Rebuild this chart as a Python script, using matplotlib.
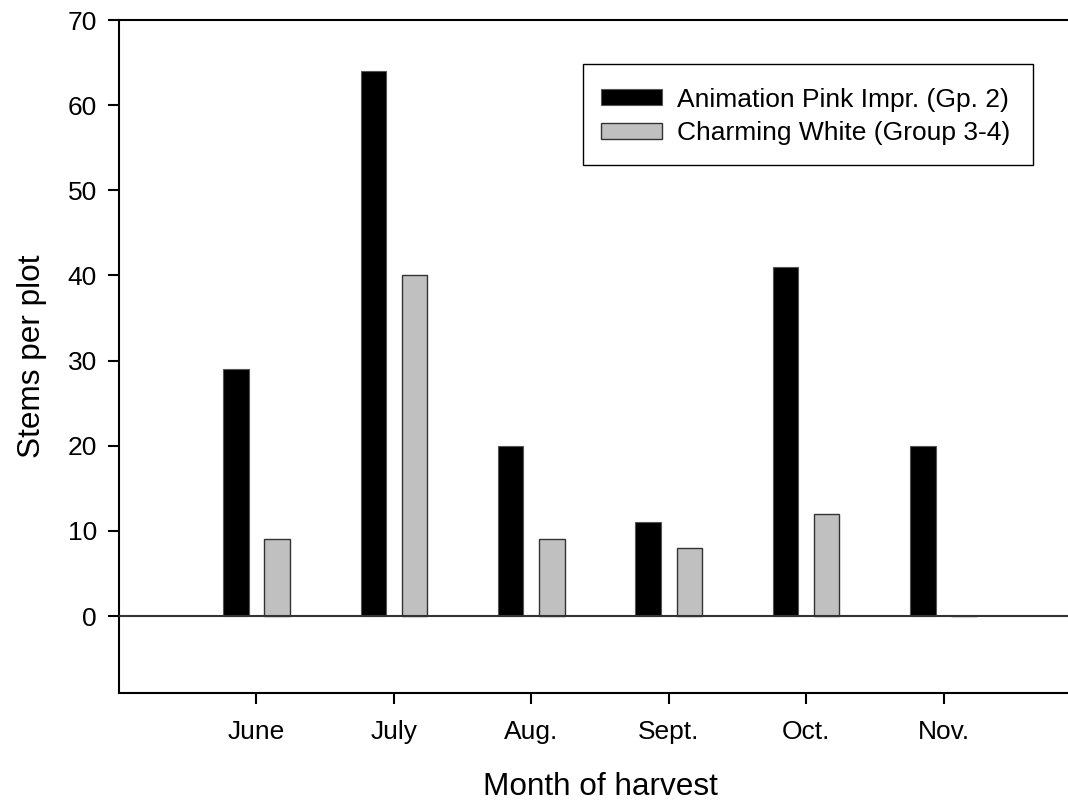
import matplotlib
matplotlib.use("Agg")
import matplotlib.pyplot as plt
from matplotlib.patches import Rectangle
import numpy as np

months = ["June", "July", "Aug.", "Sept.", "Oct.", "Nov."]
animation_pink = [29, 64, 20, 11, 41, 20]
charming_white = [9, 40, 9, 8, 12, 0]
series_labels = ["Animation Pink Impr. (Gp. 2)", "Charming White (Group 3-4)"]
y_ticks = [0, 10, 20, 30, 40, 50, 60, 70]

plt.rcParams['font.family'] = ['Liberation Sans', 'DejaVu Sans']

W, H = 1068, 802
fig = plt.figure(figsize=(W / 100, H / 100), dpi=100)
ax = fig.add_axes([119/W, 1 - 692.7/H, 962/W, (692.7 - 20)/H])

x = np.arange(1, len(months) + 1)
w = 0.185
off = 0.15
ax.bar(x - off, animation_pink, w, color="black", edgecolor="#555555", linewidth=0.8,
       label=series_labels[0], zorder=3)
ax.bar(x + off, charming_white, w, color="#c0c0c0", edgecolor="#333333", linewidth=1.0,
       label=series_labels[1], zorder=3)

ax.axhline(0, color="#333333", linewidth=1.5, zorder=4)

ax.set_xlim(0, 7)
ax.set_ylim(-9, 70)
ax.set_xticks(x)
ax.set_xticklabels(months)
ax.set_yticks(y_ticks)

for s in ["left", "bottom", "top"]:
    ax.spines[s].set_linewidth(1.5)
    ax.spines[s].set_color("black")
ax.spines["right"].set_visible(False)

ax.tick_params(axis="both", direction="out", length=8, width=1.5, labelsize=19, pad=8, colors="black")
ax.tick_params(axis="x", pad=12)

ax.set_xlabel("Month of harvest", fontsize=22.7, labelpad=20)
ax.set_ylabel("Stems per plot", fontsize=22.7, labelpad=15)

leg = ax.legend(loc="upper left", bbox_to_anchor=(577.7/W, 1 - 64/H),
                bbox_transform=fig.transFigure, fontsize=19, frameon=False,
                handlelength=2.3, handleheight=0.55, handletextpad=0.55, borderpad=0.9,
                labelspacing=0.36, borderaxespad=0)
fig.add_artist(Rectangle((582.7/W, 1 - 165/H), (1033 - 582.7)/W, (165 - 64)/H,
                         transform=fig.transFigure, fill=False, edgecolor="black",
                         linewidth=1.0, zorder=5))

fig.savefig("out.png", dpi=100)
